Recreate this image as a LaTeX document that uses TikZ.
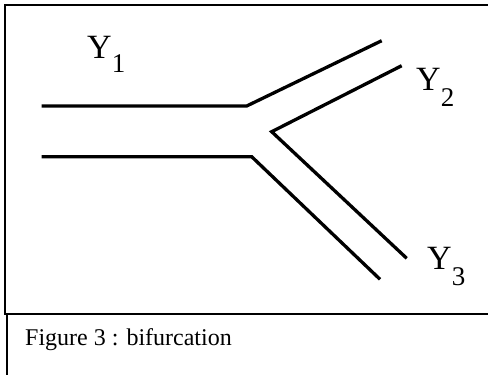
\documentclass[tikz,border=0pt]{standalone}
\usepackage{fontspec}
\setmainfont{Liberation Serif}
\usepackage{tikz}

\begin{document}
\begin{tikzpicture}[x=1pt, y=-1pt,
    wall/.style={line width=3.3pt},
    frame/.style={line width=2pt},
    lab/.style={anchor=base west, inner sep=0pt, font=\fontsize{34}{34}\selectfont}]
    \useasboundingbox (0,0) rectangle (488,375);
    % frame
    \draw [frame] (488,5)--(5,5)--(5,314)--(488,314);
    \draw [frame] (6.5,314)--(6.5,375);
    % pipes
    \draw [wall] (41.7,106)--(246.7,106)--(381.7,40.7);
    \draw [wall] (41.7,156.7)--(251.7,156.7)--(380,279.3);
    \draw [wall] (401.7,65.7)--(271.7,131.7)--(406.7,258.3);
    % labels
    \node[lab] (y1) at (87,58) {Y\raisebox{-14pt}{\fontsize{27}{27}\selectfont 1}};
    \node[lab] (y2) at (416,90) {Y\raisebox{-16pt}{\fontsize{27}{27}\selectfont 2}};
    \node[lab] (y3) at (427,269) {Y\raisebox{-16pt}{\fontsize{27}{27}\selectfont 3}};
    \node[anchor=base west, inner sep=0pt, font=\fontsize{24}{24}\selectfont] (cap) at (25,345) {Figure 3 : bifurcation};
\end{tikzpicture}
\end{document}
